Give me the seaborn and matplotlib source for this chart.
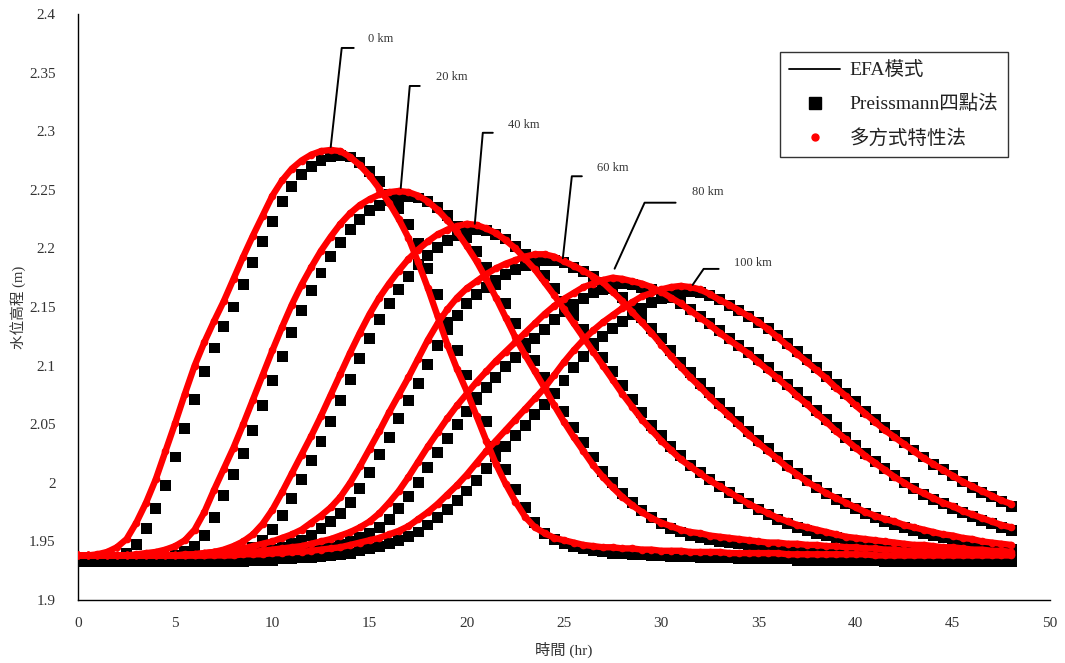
import numpy as np
import pandas as pd
import matplotlib
matplotlib.use("Agg")
import matplotlib.pyplot as plt
from matplotlib.lines import Line2D
import seaborn as sns

# ---------------- data ----------------
time_hr = np.arange(0, 48.5, 0.5)          # 0 ... 48 hr, every 0.5 hr
stations = ["0 km", "20 km", "40 km", "60 km", "80 km", "100 km"]

# EFA model (black line) -- the characteristic method (red dots) coincides
efa_0km = [1.938, 1.938, 1.939, 1.941, 1.945, 1.952, 1.966, 1.983, 2.003, 2.027,
           2.051, 2.076, 2.100, 2.120, 2.138, 2.155, 2.174, 2.193, 2.211, 2.228,
           2.245, 2.258, 2.268, 2.275, 2.280, 2.283, 2.284, 2.283, 2.278, 2.271,
           2.262, 2.251, 2.239, 2.225, 2.209, 2.188, 2.166, 2.142, 2.118, 2.097,
           2.078, 2.057, 2.036, 2.016, 1.999, 1.984, 1.971, 1.962, 1.957, 1.953,
           1.951, 1.949, 1.947, 1.946, 1.945, 1.945, 1.944, 1.944, 1.943, 1.943,
           1.942, 1.942, 1.942, 1.941, 1.941, 1.941, 1.941, 1.940, 1.940, 1.940,
           1.940, 1.940, 1.940, 1.939, 1.939, 1.939, 1.939, 1.939, 1.939, 1.939,
           1.939, 1.939, 1.938, 1.938, 1.938, 1.938, 1.938, 1.938, 1.938, 1.938,
           1.938, 1.938, 1.938, 1.938, 1.938, 1.938, 1.938]
efa_20km = [1.938, 1.938, 1.938, 1.938, 1.938, 1.938, 1.939, 1.940, 1.941, 1.943,
            1.946, 1.951, 1.960, 1.975, 1.994, 2.012, 2.030, 2.050, 2.071, 2.092,
            2.113, 2.133, 2.152, 2.169, 2.184, 2.198, 2.210, 2.221, 2.230, 2.237,
            2.242, 2.246, 2.248, 2.249, 2.248, 2.245, 2.240, 2.233, 2.224, 2.214,
            2.202, 2.189, 2.174, 2.158, 2.141, 2.124, 2.109, 2.095, 2.081, 2.066,
            2.052, 2.039, 2.027, 2.015, 2.005, 1.996, 1.988, 1.981, 1.975, 1.970,
            1.966, 1.963, 1.960, 1.958, 1.957, 1.955, 1.954, 1.953, 1.952, 1.951,
            1.950, 1.949, 1.949, 1.948, 1.948, 1.947, 1.947, 1.946, 1.946, 1.945,
            1.945, 1.944, 1.944, 1.943, 1.943, 1.942, 1.942, 1.942, 1.941, 1.941,
            1.941, 1.940, 1.940, 1.940, 1.940, 1.939, 1.939]
efa_40km = [1.938, 1.938, 1.938, 1.938, 1.938, 1.938, 1.938, 1.938, 1.938, 1.938,
            1.938, 1.938, 1.939, 1.940, 1.941, 1.943, 1.946, 1.950, 1.956, 1.965,
            1.977, 1.992, 2.008, 2.024, 2.040, 2.057, 2.075, 2.093, 2.111, 2.128,
            2.144, 2.158, 2.170, 2.181, 2.191, 2.199, 2.206, 2.212, 2.216, 2.219,
            2.221, 2.220, 2.217, 2.213, 2.207, 2.200, 2.191, 2.182, 2.171, 2.160,
            2.148, 2.136, 2.124, 2.112, 2.100, 2.088, 2.076, 2.065, 2.054, 2.045,
            2.036, 2.028, 2.020, 2.014, 2.008, 2.002, 1.997, 1.992, 1.987, 1.982,
            1.978, 1.974, 1.970, 1.967, 1.964, 1.962, 1.960, 1.958, 1.956, 1.954,
            1.953, 1.952, 1.951, 1.950, 1.949, 1.948, 1.947, 1.947, 1.946, 1.945,
            1.945, 1.944, 1.943, 1.943, 1.942, 1.942, 1.941]
efa_60km = [1.938, 1.938, 1.938, 1.938, 1.938, 1.938, 1.938, 1.938, 1.938, 1.938,
            1.938, 1.939, 1.939, 1.940, 1.941, 1.942, 1.943, 1.944, 1.946, 1.948,
            1.950, 1.953, 1.956, 1.960, 1.966, 1.972, 1.979, 1.988, 2.000, 2.014,
            2.029, 2.044, 2.060, 2.075, 2.090, 2.106, 2.122, 2.136, 2.148, 2.158,
            2.166, 2.172, 2.178, 2.183, 2.187, 2.190, 2.193, 2.195, 2.195, 2.193,
            2.189, 2.185, 2.181, 2.176, 2.171, 2.163, 2.155, 2.146, 2.137, 2.128,
            2.118, 2.108, 2.099, 2.090, 2.082, 2.073, 2.065, 2.057, 2.049, 2.041,
            2.034, 2.027, 2.020, 2.013, 2.007, 2.001, 1.996, 1.991, 1.987, 1.983,
            1.979, 1.975, 1.972, 1.969, 1.967, 1.964, 1.962, 1.960, 1.958, 1.956,
            1.955, 1.953, 1.952, 1.950, 1.949, 1.948, 1.947]
efa_80km = [1.938, 1.938, 1.938, 1.938, 1.938, 1.938, 1.938, 1.938, 1.938, 1.938,
            1.938, 1.938, 1.938, 1.938, 1.939, 1.939, 1.940, 1.940, 1.941, 1.942,
            1.943, 1.944, 1.945, 1.946, 1.948, 1.950, 1.952, 1.955, 1.958, 1.962,
            1.967, 1.974, 1.983, 1.993, 2.005, 2.018, 2.031, 2.043, 2.055, 2.066,
            2.076, 2.086, 2.095, 2.104, 2.112, 2.120, 2.128, 2.136, 2.144, 2.151,
            2.157, 2.162, 2.167, 2.170, 2.173, 2.175, 2.174, 2.172, 2.170, 2.167,
            2.163, 2.158, 2.153, 2.147, 2.141, 2.135, 2.128, 2.122, 2.116, 2.110,
            2.103, 2.096, 2.089, 2.082, 2.074, 2.067, 2.059, 2.052, 2.044, 2.037,
            2.030, 2.023, 2.017, 2.011, 2.005, 2.000, 1.995, 1.991, 1.987, 1.983,
            1.980, 1.976, 1.973, 1.970, 1.967, 1.964, 1.962]
efa_100km = [1.938, 1.938, 1.938, 1.938, 1.938, 1.938, 1.938, 1.938, 1.938, 1.938,
             1.938, 1.938, 1.938, 1.938, 1.938, 1.938, 1.938, 1.939, 1.939, 1.939,
             1.940, 1.940, 1.941, 1.941, 1.942, 1.943, 1.944, 1.945, 1.947, 1.949,
             1.951, 1.953, 1.956, 1.959, 1.963, 1.969, 1.975, 1.982, 1.990, 1.998,
             2.007, 2.017, 2.027, 2.036, 2.045, 2.054, 2.063, 2.072, 2.081, 2.092,
             2.103, 2.113, 2.122, 2.130, 2.137, 2.143, 2.149, 2.154, 2.159, 2.162,
             2.165, 2.167, 2.168, 2.167, 2.165, 2.161, 2.156, 2.152, 2.147, 2.142,
             2.137, 2.131, 2.124, 2.117, 2.110, 2.103, 2.096, 2.089, 2.081, 2.074,
             2.066, 2.059, 2.052, 2.045, 2.039, 2.033, 2.027, 2.021, 2.016, 2.011,
             2.006, 2.001, 1.997, 1.993, 1.989, 1.985, 1.982]

# Preissmann four-point scheme (black squares)
pm_0km = [1.933, 1.933, 1.933, 1.934, 1.936, 1.940, 1.947, 1.961, 1.978, 1.998,
          2.022, 2.046, 2.071, 2.095, 2.115, 2.133, 2.150, 2.169, 2.188, 2.206,
          2.223, 2.240, 2.253, 2.263, 2.270, 2.275, 2.278, 2.279, 2.278, 2.273,
          2.266, 2.257, 2.246, 2.234, 2.220, 2.204, 2.183, 2.161, 2.137, 2.113,
          2.092, 2.073, 2.052, 2.031, 2.011, 1.994, 1.979, 1.966, 1.957, 1.952,
          1.948, 1.946, 1.944, 1.942, 1.941, 1.940, 1.940, 1.939, 1.939, 1.938,
          1.938, 1.937, 1.937, 1.937, 1.936, 1.936, 1.936, 1.936, 1.935, 1.935,
          1.935, 1.935, 1.935, 1.935, 1.934, 1.934, 1.934, 1.934, 1.934, 1.934,
          1.934, 1.934, 1.934, 1.933, 1.933, 1.933, 1.933, 1.933, 1.933, 1.933,
          1.933, 1.933, 1.933, 1.933, 1.933, 1.933, 1.933]
pm_20km = [1.933, 1.933, 1.933, 1.933, 1.933, 1.933, 1.933, 1.934, 1.935, 1.936,
           1.938, 1.941, 1.946, 1.955, 1.970, 1.989, 2.007, 2.025, 2.045, 2.066,
           2.087, 2.108, 2.128, 2.147, 2.164, 2.179, 2.193, 2.205, 2.216, 2.225,
           2.232, 2.237, 2.241, 2.243, 2.244, 2.243, 2.240, 2.235, 2.228, 2.219,
           2.209, 2.197, 2.184, 2.169, 2.153, 2.136, 2.119, 2.104, 2.090, 2.076,
           2.061, 2.047, 2.034, 2.022, 2.010, 2.000, 1.991, 1.983, 1.976, 1.970,
           1.965, 1.961, 1.958, 1.955, 1.953, 1.952, 1.950, 1.949, 1.948, 1.947,
           1.946, 1.945, 1.944, 1.944, 1.943, 1.943, 1.942, 1.942, 1.941, 1.941,
           1.940, 1.940, 1.939, 1.939, 1.938, 1.938, 1.937, 1.937, 1.937, 1.936,
           1.936, 1.936, 1.935, 1.935, 1.935, 1.935, 1.934]
pm_40km = [1.933, 1.933, 1.933, 1.933, 1.933, 1.933, 1.933, 1.933, 1.933, 1.933,
           1.933, 1.933, 1.933, 1.934, 1.935, 1.936, 1.938, 1.941, 1.945, 1.951,
           1.960, 1.972, 1.987, 2.003, 2.019, 2.035, 2.052, 2.070, 2.088, 2.106,
           2.123, 2.139, 2.153, 2.165, 2.176, 2.186, 2.194, 2.201, 2.207, 2.211,
           2.214, 2.216, 2.215, 2.212, 2.208, 2.202, 2.195, 2.186, 2.177, 2.166,
           2.155, 2.143, 2.131, 2.119, 2.107, 2.095, 2.083, 2.071, 2.060, 2.049,
           2.040, 2.031, 2.023, 2.015, 2.009, 2.003, 1.997, 1.992, 1.987, 1.982,
           1.977, 1.973, 1.969, 1.965, 1.962, 1.959, 1.957, 1.955, 1.953, 1.951,
           1.949, 1.948, 1.947, 1.946, 1.945, 1.944, 1.943, 1.942, 1.942, 1.941,
           1.940, 1.940, 1.939, 1.938, 1.938, 1.937, 1.937]
pm_60km = [1.933, 1.933, 1.933, 1.933, 1.933, 1.933, 1.933, 1.933, 1.933, 1.933,
           1.933, 1.933, 1.934, 1.934, 1.935, 1.936, 1.937, 1.938, 1.939, 1.941,
           1.943, 1.945, 1.948, 1.951, 1.955, 1.961, 1.967, 1.974, 1.983, 1.995,
           2.009, 2.024, 2.039, 2.055, 2.070, 2.085, 2.101, 2.117, 2.131, 2.143,
           2.153, 2.161, 2.167, 2.173, 2.178, 2.182, 2.185, 2.188, 2.190, 2.190,
           2.188, 2.184, 2.180, 2.176, 2.171, 2.166, 2.158, 2.150, 2.141, 2.132,
           2.123, 2.113, 2.103, 2.094, 2.085, 2.077, 2.068, 2.060, 2.052, 2.044,
           2.036, 2.029, 2.022, 2.015, 2.008, 2.002, 1.996, 1.991, 1.986, 1.982,
           1.978, 1.974, 1.970, 1.967, 1.964, 1.962, 1.959, 1.957, 1.955, 1.953,
           1.951, 1.950, 1.948, 1.947, 1.945, 1.944, 1.943]
pm_80km = [1.933, 1.933, 1.933, 1.933, 1.933, 1.933, 1.933, 1.933, 1.933, 1.933,
           1.933, 1.933, 1.933, 1.933, 1.933, 1.934, 1.934, 1.935, 1.935, 1.936,
           1.937, 1.938, 1.939, 1.940, 1.941, 1.943, 1.945, 1.947, 1.950, 1.953,
           1.957, 1.962, 1.969, 1.978, 1.988, 2.000, 2.013, 2.026, 2.038, 2.050,
           2.061, 2.071, 2.081, 2.090, 2.099, 2.107, 2.115, 2.123, 2.131, 2.139,
           2.146, 2.152, 2.157, 2.162, 2.165, 2.168, 2.170, 2.169, 2.167, 2.165,
           2.162, 2.158, 2.153, 2.148, 2.142, 2.136, 2.130, 2.123, 2.117, 2.111,
           2.105, 2.098, 2.091, 2.084, 2.077, 2.069, 2.062, 2.054, 2.047, 2.039,
           2.032, 2.025, 2.018, 2.012, 2.006, 2.000, 1.995, 1.990, 1.986, 1.982,
           1.978, 1.975, 1.971, 1.968, 1.965, 1.962, 1.959]
pm_100km = [1.933, 1.933, 1.933, 1.933, 1.933, 1.933, 1.933, 1.933, 1.933, 1.933,
            1.933, 1.933, 1.933, 1.933, 1.933, 1.933, 1.933, 1.933, 1.934, 1.934,
            1.934, 1.935, 1.935, 1.936, 1.936, 1.937, 1.938, 1.939, 1.940, 1.942,
            1.944, 1.946, 1.948, 1.951, 1.954, 1.958, 1.964, 1.970, 1.977, 1.985,
            1.993, 2.002, 2.012, 2.022, 2.031, 2.040, 2.049, 2.058, 2.067, 2.076,
            2.087, 2.098, 2.108, 2.117, 2.125, 2.132, 2.138, 2.144, 2.149, 2.154,
            2.157, 2.160, 2.162, 2.163, 2.162, 2.160, 2.156, 2.151, 2.147, 2.142,
            2.137, 2.132, 2.126, 2.119, 2.112, 2.105, 2.098, 2.091, 2.084, 2.076,
            2.069, 2.061, 2.054, 2.047, 2.040, 2.034, 2.028, 2.022, 2.016, 2.011,
            2.006, 2.001, 1.996, 1.992, 1.988, 1.984, 1.980]

efa_series = [efa_0km, efa_20km, efa_40km, efa_60km, efa_80km, efa_100km]
pm_series = [pm_0km, pm_20km, pm_40km, pm_60km, pm_80km, pm_100km]

x_ticks = [0, 5, 10, 15, 20, 25, 30, 35, 40, 45, 50]
y_ticks = [1.9, 1.95, 2.0, 2.05, 2.1, 2.15, 2.2, 2.25, 2.3, 2.35, 2.4]
y_tick_labels = ["1.9", "1.95", "2", "2.05", "2.1", "2.15", "2.2", "2.25", "2.3", "2.35", "2.4"]
legend_labels = ["EFA模式", "Preissmann四點法", "多方式特性法"]
x_label = "時間 (hr)"
y_label = "水位高程 (m)"

# ---------------- tables ----------------
n = len(time_hr)
df_efa = pd.DataFrame({"t": np.tile(time_hr, len(stations)),
                       "h": np.concatenate(efa_series),
                       "station": np.repeat(stations, n)})
df_pm = pd.DataFrame({"t": np.tile(time_hr, len(stations)),
                      "h": np.concatenate(pm_series),
                      "station": np.repeat(stations, n)})

# ---------------- figure ----------------
sns.set_theme(style="white")
plt.rcParams["font.family"] = ["Liberation Serif", "Noto Sans CJK TC", "DejaVu Sans"]
plt.rcParams["axes.unicode_minus"] = False

W, H = 1065, 663
fig = plt.figure(figsize=(W / 100, H / 100), dpi=100)
ax = fig.add_axes([78 / W, (H - 600) / H, 972 / W, 586 / H])

sns.scatterplot(data=df_pm, x="t", y="h", marker="s", s=62, color="black",
                edgecolor="none", linewidth=0, legend=False, ax=ax, zorder=2)
sns.lineplot(data=df_efa, x="t", y="h", units="station", estimator=None,
             color="black", lw=1.0, legend=False, ax=ax, zorder=3, sort=False)
sns.lineplot(data=df_efa, x="t", y="h", units="station", estimator=None,
             color="red", lw=4.6, marker="o", markersize=5.5, markeredgewidth=0,
             solid_capstyle="round", legend=False, ax=ax, zorder=4, sort=False)

ax.set_xlim(0, 50)
ax.set_ylim(1.9, 2.4)
ax.set_xticks(x_ticks)
ax.set_xticklabels([str(v) for v in x_ticks])
ax.set_yticks(y_ticks)
ax.set_yticklabels(y_tick_labels)
ax.grid(False)
sns.despine(ax=ax)
for s in ("left", "bottom"):
    ax.spines[s].set_color("black")
    ax.spines[s].set_linewidth(1.0)
ax.tick_params(axis="both", direction="in", length=5, width=1, color="black",
               labelsize=11, labelcolor="#333333")
ax.tick_params(axis="y", pad=16)
ax.tick_params(axis="x", pad=12)
ax.set_xlabel(x_label, fontsize=11, color="#333333", labelpad=9)
ax.set_ylabel(y_label, fontsize=10.5, color="#333333", labelpad=2)

# ---------------- legend ----------------
handles = [Line2D([], [], color="black", lw=1.3),
           Line2D([], [], ls="none", marker="s", color="black", markersize=8.5),
           Line2D([], [], ls="none", marker="o", color="red", markersize=5)]
leg = ax.legend(handles, legend_labels, loc="upper right",
                bbox_to_anchor=(0.957, 0.935), frameon=True, fancybox=False,
                edgecolor="black", fontsize=14, handlelength=2.6,
                labelspacing=0.78, borderpad=0.5, handletextpad=0.5,
                borderaxespad=0)
leg.get_frame().set_linewidth(1.0)
for txt in leg.get_texts():
    txt.set_color("#222222")

# ---------------- call-outs (elbow leaders anchored at each peak) ----------------
# pixel offsets (bottom point, elbow point, end of horizontal bar, text position)
callout_style = {
    "0 km":   ((0, 3),   (11, 102), 23, (37, 111)),
    "20 km":  ((2, 3),   (11, 105), 21, (37, 114)),
    "40 km":  ((8, 0),   (16, 91),  26, (41, 99)),
    "60 km":  ((28, -4), (37, 78),  47, (62, 86)),
    "80 km":  ((2, 9),   (32, 75),  63, (79, 86)),
    "100 km": ((12, 1),  (23, 17),  38, (53, 23)),
}
fig.canvas.draw()
inv = ax.transData.inverted()
for name, vals in zip(stations, efa_series):
    k = int(np.argmax(vals))
    px, py = ax.transData.transform((time_hr[k], vals[k]))
    b, e, end, tp = callout_style[name]
    pts = np.array([(px + b[0], py + b[1]), (px + e[0], py + e[1]), (px + end, py + e[1])])
    dp = inv.transform(pts)
    ax.plot(dp[:, 0], dp[:, 1], color="black", lw=1.4, zorder=6, clip_on=False)
    tx, ty = inv.transform((px + tp[0], py + tp[1]))
    ax.text(tx, ty, name, fontsize=9, ha="left", va="center", color="#333333", zorder=6)

fig.savefig("out.png", dpi=100)
